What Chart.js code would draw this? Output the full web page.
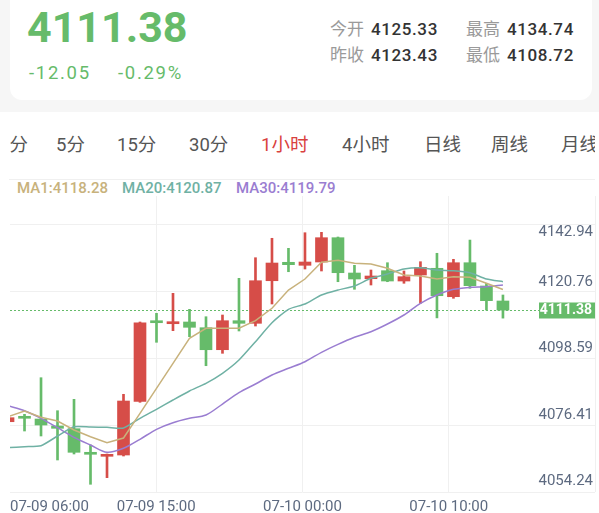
<!DOCTYPE html>
<html><head><meta charset="utf-8">
<script src="https://cdn.jsdelivr.net/npm/chart.js@4.4.1/dist/chart.umd.min.js"></script>
<style>
html,body{margin:0;padding:0}
body{width:599px;height:513px;overflow:hidden;position:relative;background:#fff;font-family:Roboto,"Noto Sans CJK SC",sans-serif}
.abs{position:absolute;white-space:nowrap;line-height:1}
#chartWrap{position:absolute;left:0;top:196px;width:599px;height:317px}
</style></head><body>
<script>
// ---------- data ----------
const lastPrice = 4111.38;
const change = '-12.05';
const changePct = '-0.29%';
const statLabels = ['今开', '最高', '昨收', '最低'];
const statValues = ['4125.33', '4134.74', '4123.43', '4108.72'];
const periodTabs = ['分', '5分', '15分', '30分', '1小时', '4小时', '日线', '周线', '月线'];
const activeTab = '1小时';
const maNames = ['MA1', 'MA20', 'MA30'];
const maLatest = ['4118.28', '4120.87', '4119.79'];

const opens  = [4074.19,4075.99,4075.09,4072.76,4071.86,4063.86,4062.66,4063.09,4080.99,4107.76,4106.86,4107.43,4105.53,4098.19,4107.86,4106.99,4121.19,4127.33,4126.33,4127.43,4135.53,4123.76,4121.86,4124.53,4121.09,4123.09,4125.33,4115.86,4127.19,4119.43,4114.43];
const highs  = [4075.60,4076.66,4088.86,4077.86,4081.66,4066.43,4063.43,4083.33,4107.43,4110.33,4116.99,4111.66,4109.19,4109.76,4121.99,4128.86,4135.33,4131.99,4137.19,4137.33,4135.76,4126.33,4124.76,4127.19,4124.43,4127.53,4130.33,4128.33,4134.74,4120.33,4116.43];
const lows   = [4074.10,4071.09,4069.43,4061.43,4063.43,4053.33,4055.53,4062.76,4080.66,4100.66,4104.53,4102.53,4092.86,4096.99,4104.43,4106.09,4113.43,4124.19,4125.09,4124.43,4120.86,4118.33,4119.76,4120.86,4120.33,4113.66,4108.80,4115.33,4118.66,4111.43,4108.72];
const closes = [4075.53,4075.33,4073.09,4071.99,4063.99,4063.33,4063.09,4081.09,4107.19,4107.19,4107.53,4105.66,4098.19,4107.86,4106.99,4121.19,4127.09,4126.53,4127.43,4135.53,4123.86,4121.76,4122.76,4121.09,4122.53,4125.66,4116.19,4127.19,4119.53,4114.53,4111.38];

const ma1  = [4075.86,4077.76,4075.66,4074.43,4071.43,4069.19,4067.19,4068.76,4076.99,4085.33,4093.66,4101.99,4105.33,4105.33,4105.33,4107.86,4111.99,4118.09,4121.76,4127.33,4127.99,4126.99,4126.76,4125.33,4123.09,4122.76,4121.76,4122.53,4122.33,4120.33,4118.28];
const ma20 = [4065.53,4065.86,4066.19,4069.43,4072.53,4072.43,4072.33,4072.09,4075.33,4078.33,4081.43,4084.43,4086.99,4090.33,4094.76,4100.86,4107.19,4111.66,4113.43,4116.43,4118.09,4119.43,4121.99,4123.43,4125.09,4125.53,4124.76,4124.53,4123.86,4121.76,4120.87];
const ma30 = [4079.53,4077.86,4075.33,4072.19,4068.99,4066.43,4063.99,4065.33,4068.33,4071.66,4073.86,4075.33,4076.43,4080.09,4083.86,4086.76,4089.76,4091.99,4094.19,4097.33,4099.99,4102.33,4104.19,4106.76,4109.76,4113.66,4116.43,4118.33,4118.99,4119.19,4119.79];

const xTickLabels = ['07-09 06:00', '07-09 15:00', '07-10 00:00', '07-10 10:00'];
const yTickLabels = [4142.94, 4120.76, 4098.59, 4076.41, 4054.24];
</script>

<div class="abs" style="left:0;top:0;width:599px;height:112px;background:#f6f6f6"></div>
<div class="abs" style="left:10px;top:-12px;width:582px;height:112px;background:#fff;border-radius:12px"></div>
<div id="bigPrice" class="abs" style="left:27px;top:6px;font-size:43px;font-weight:700;color:#66bb6a"></div>
<div id="chg" class="abs" style="left:29px;top:63.5px;font-size:18.5px;letter-spacing:1.7px;color:#66bb6a"></div>
<div id="chgPct" class="abs" style="left:118px;top:63.5px;font-size:18.5px;letter-spacing:1.7px;color:#66bb6a"></div>
<div id="stats"></div>
<div id="tabs" class="abs" style="left:0;top:0;width:595px;height:170px;overflow:hidden"></div>
<div class="abs" style="left:9px;top:179px;width:586px;height:1px;background:#f0f0f0"></div>
<div id="legend"></div>
<div id="chartWrap"><canvas id="c" width="599" height="317"></canvas></div>

<script>
document.getElementById('bigPrice').textContent = lastPrice.toFixed(2);
document.getElementById('chg').textContent = change;
document.getElementById('chgPct').textContent = changePct;

// stats block
const statPos = [[330, 371, 21.2], [466, 507, 21.2], [330, 371, 46.7], [466, 507, 46.7]];
const statsEl = document.getElementById('stats');
statLabels.forEach((lab, i) => {
  const [lx, vx, ty] = statPos[i];
  const l = document.createElement('div');
  l.className = 'abs';
  l.style.cssText = `left:${lx}px;top:${ty}px;font-size:17px;color:#9a9a9a`;
  l.textContent = lab;
  const v = document.createElement('div');
  v.className = 'abs';
  v.style.cssText = `left:${vx}px;top:${ty}px;font-size:17px;letter-spacing:0.6px;color:#333;font-weight:500`;
  v.textContent = statValues[i];
  statsEl.appendChild(l); statsEl.appendChild(v);
});

// tabs
const tabX = [9.5, 56, 117, 189, 261, 342, 424, 491, 561];
const tabsEl = document.getElementById('tabs');
periodTabs.forEach((t, i) => {
  const d = document.createElement('div');
  d.className = 'abs';
  d.style.cssText = `left:${tabX[i]}px;top:136px;font-size:18.5px;color:${t === activeTab ? '#d9413e' : '#555'}`;
  d.textContent = t;
  tabsEl.appendChild(d);
});

// legend
const maColors = ['#c8b27c', '#6fb1a4', '#9a7dd1'];
const legX = [17, 122, 236];
const legEl = document.getElementById('legend');
maNames.forEach((n, i) => {
  const d = document.createElement('div');
  d.className = 'abs';
  d.style.cssText = `left:${legX[i]}px;top:181.4px;font-size:15px;font-weight:500;color:${maColors[i]}`;
  d.textContent = n + ':' + maLatest[i];
  legEl.appendChild(d);
});

// chart
const UP = '#d64d48', DOWN = '#66bb6a';
const dirColors = closes.map((c, i) => c >= opens[i] ? UP : DOWN);
const idx = closes.map((_, i) => i);
const wickData = idx.map(i => ({x: i, y: [lows[i], highs[i]]}));
const bodyData = idx.map(i => ({x: i, y: [opens[i], closes[i]]}));
const maData = arr => arr.map((v, i) => ({x: i, y: v}));
const GRID = '#f0f0f0';
const LABEL = '#5d6a80';
const gridTopValue = 4140.09;

const overlay = {
  id: 'overlay',
  beforeDatasetsDraw(chart) {
    const {ctx, chartArea: a, scales: {y}} = chart;
    const py = Math.round(y.getPixelForValue(lastPrice)) + 0.5;
    ctx.save();
    ctx.strokeStyle = DOWN;
    ctx.lineWidth = 1;
    ctx.setLineDash([2, 2]);
    ctx.beginPath();
    ctx.moveTo(a.left, py);
    ctx.lineTo(a.right - 56, py);
    ctx.stroke();
    ctx.restore();
  },
  afterDatasetsDraw(chart) {
    const {ctx, chartArea: a, scales: {x, y}} = chart;
    ctx.save();
    const topGrid = y.getPixelForValue(gridTopValue);
    ctx.font = '15px Roboto';
    ctx.fillStyle = LABEL;
    ctx.textAlign = 'right';
    ctx.textBaseline = 'middle';
    yTickLabels.forEach(v => {
      const py = Math.max(y.getPixelForValue(v), topGrid + 8);
      ctx.fillText(v.toFixed(2), a.right - 2, py);
    });
    const lp = y.getPixelForValue(lastPrice);
    ctx.fillStyle = DOWN;
    ctx.fillRect(a.right - 56, Math.round(lp) - 7.5, 56, 16);
    ctx.fillStyle = '#fff';
    ctx.font = 'bold 14px Roboto';
    ctx.fillText(lastPrice.toFixed(2), a.right - 3, lp + 0.5);
    ctx.font = '15px Roboto';
    ctx.fillStyle = LABEL;
    ctx.textAlign = 'left';
    x.ticks.slice(0, xTickLabels.length).forEach((t, i) => {
      const w = ctx.measureText(xTickLabels[i]).width;
      const px = Math.max(x.getPixelForValue(t.value) - w / 2, a.left);
      ctx.fillText(xTickLabels[i], px, a.bottom + 15);
    });
    ctx.restore();
  }
};

new Chart(document.getElementById('c'), {
  type: 'bar',
  data: {
    datasets: [
      {type: 'line', label: 'MA1', data: maData(ma1), borderColor: maColors[0], borderWidth: 1.5, pointRadius: 0, tension: 0, order: 0},
      {type: 'line', label: 'MA20', data: maData(ma20), borderColor: maColors[1], borderWidth: 1.5, pointRadius: 0, tension: 0.2, order: 0},
      {type: 'line', label: 'MA30', data: maData(ma30), borderColor: maColors[2], borderWidth: 1.5, pointRadius: 0, tension: 0.3, order: 0},
      {label: 'wick', data: wickData, backgroundColor: dirColors, barThickness: 2, grouped: false, order: 2, borderWidth: 0},
      {label: 'body', data: bodyData, backgroundColor: dirColors, barThickness: 12, minBarLength: 2, grouped: false, order: 1, borderWidth: 0}
    ]
  },
  options: {
    responsive: false,
    animation: false,
    events: [],
    layout: {padding: {left: 10, right: 4, top: 0, bottom: 21}},
    plugins: {legend: {display: false}, tooltip: {enabled: false}},
    scales: {
      x: {
        type: 'linear', min: 0.12, max: 35.58, offset: false,
        afterBuildTicks: s => { s.ticks = [0, 1, 2, 3, 4].map(k => ({value: s.min + k * (s.max - s.min) / 4})); },
        ticks: {display: false},
        grid: {offset: false, drawTicks: false, color: c => c.index === 0 ? 'rgba(0,0,0,0)' : GRID, lineWidth: 1},
        border: {display: false}
      },
      y: {
        type: 'linear', position: 'right', min: 4050.76, max: 4149.43,
        afterBuildTicks: s => { s.ticks = [0, 1, 2, 3, 4].map(k => ({value: s.min + k * (gridTopValue - s.min) / 4})); },
        ticks: {display: false},
        grid: {drawTicks: false, color: GRID, lineWidth: 1},
        border: {display: false}
      }
    }
  },
  plugins: [overlay]
});
</script>
</body></html>
